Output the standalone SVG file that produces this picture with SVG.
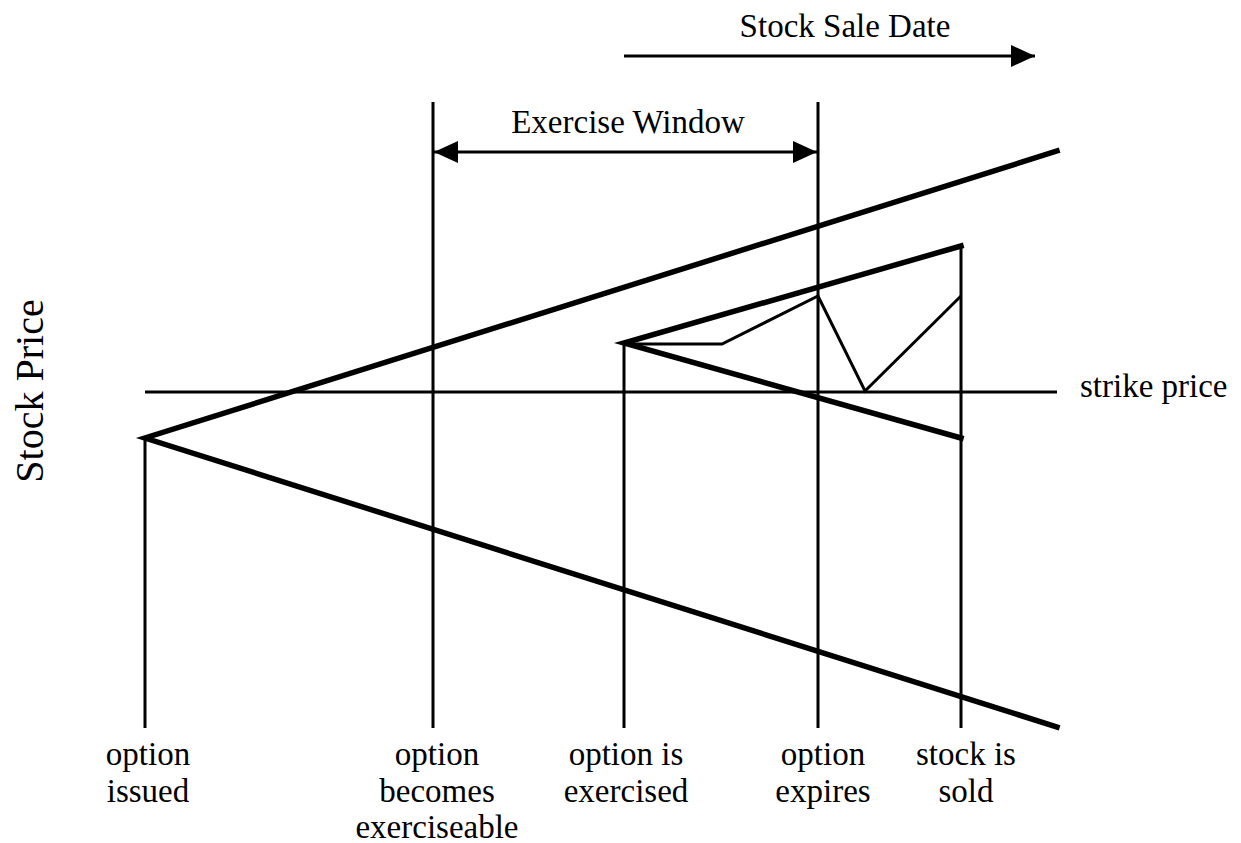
<svg xmlns="http://www.w3.org/2000/svg" width="1241" height="843" viewBox="0 0 1241 843">
<style>
text{font-family:"Liberation Serif","Times New Roman",serif;font-size:33px;fill:#000}
.c{text-anchor:middle}
.thin{stroke:#000;stroke-width:3;fill:none}
.thick{stroke:#000;stroke-width:5.5;fill:none;stroke-linecap:square}
</style>
<defs>
<marker id="ah" viewBox="0 0 24 22" refX="24" refY="11" markerWidth="24" markerHeight="22" markerUnits="userSpaceOnUse" orient="auto-start-reverse">
<path d="M0,0 L24,11 L0,22 Z" fill="#000"/>
</marker>
</defs>
<rect width="1241" height="843" fill="#fff"/>
<g id="connectors">
<line class="thin" x1="624" y1="56" x2="1035" y2="56" marker-end="url(#ah)"/>
<line class="thin" x1="434" y1="152" x2="817" y2="152" marker-start="url(#ah)" marker-end="url(#ah)"/>
<line class="thin" x1="145" y1="438" x2="145" y2="728"/>
<line class="thin" x1="433" y1="102" x2="433" y2="728"/>
<line class="thin" x1="624" y1="343" x2="624" y2="728"/>
<line class="thin" x1="818" y1="102" x2="818" y2="728"/>
<line class="thin" x1="961" y1="246" x2="961" y2="728"/>
<line class="thin" x1="145" y1="392" x2="1057" y2="392"/>
<polyline class="thick" points="1057,151 145,438 1057,727"/>
<polyline class="thick" points="961,246 624,343 961,438"/>
<polyline class="thin" stroke-linejoin="miter" points="624,344 722,344 818,296 865,391 961,296"/>
</g>
<g id="label-stock-sale-date"><text class="c" x="845" y="37">Stock Sale Date</text></g>
<g id="label-exercise-window"><text class="c" x="628" y="133">Exercise Window</text></g>
<g id="label-strike-price"><text x="1080" y="397">strike price</text></g>
<g id="label-stock-price"><text class="c" style="font-size:40px" transform="translate(43,391) rotate(-90)">Stock Price</text></g>
<g id="node-option-issued"><text class="c" x="148" y="765">option</text><text class="c" x="148" y="802">issued</text></g>
<g id="node-option-exerciseable"><text class="c" x="437" y="765">option</text><text class="c" x="437" y="802">becomes</text><text class="c" x="437" y="838">exerciseable</text></g>
<g id="node-option-exercised"><text class="c" x="626" y="765">option is</text><text class="c" x="626" y="802">exercised</text></g>
<g id="node-option-expires"><text class="c" x="823" y="765">option</text><text class="c" x="823" y="802">expires</text></g>
<g id="node-stock-sold"><text class="c" x="966" y="765">stock is</text><text class="c" x="966" y="802">sold</text></g>
</svg>
